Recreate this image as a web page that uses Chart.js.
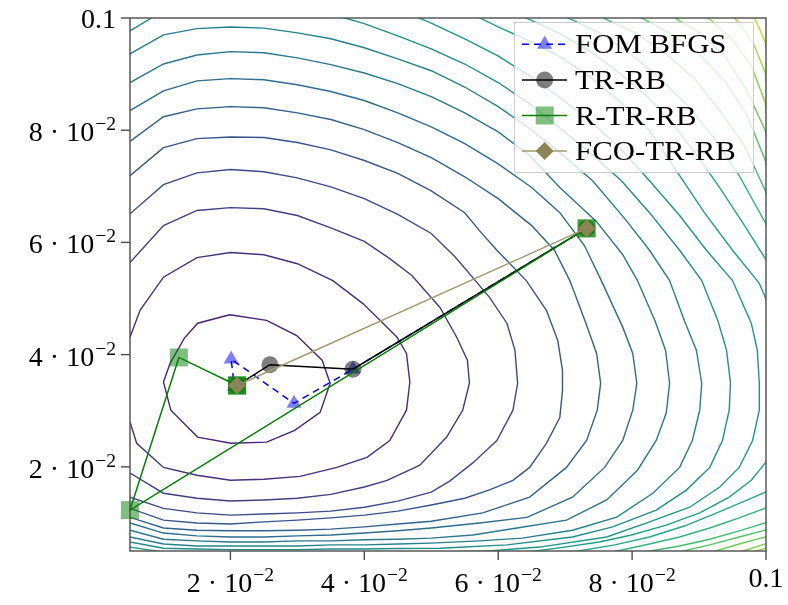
<!DOCTYPE html>
<html>
<head>
<meta charset="utf-8">
<script src="https://cdn.jsdelivr.net/npm/chart.js@4.4.0/dist/chart.umd.min.js"></script>
<style>
  html, body { margin: 0; padding: 0; background: #fff; }
  canvas { display: block; }
</style>
</head>
<body>
<canvas id="myChart" width="788" height="605"></canvas>
<script>
// every coordinate below is given in units of 1e-3
var unit = 1e-3;

var xRange = [5, 100];
var yRange = [5, 100];
var xTicks = [20, 40, 60, 80, 100];
var yTicks = [20, 40, 60, 80, 100];

// contour lines of the objective, innermost level first
var level1 = [[19.9,47.1],[15.1,45.6],[13.1,42.9],[11.0,38.5],[10.0,35.1],[11.1,30.1],[15.1,25.3],[20.1,24.2],[25.4,24.4],[29.6,26.5],[33.4,29.7],[34.9,34.9],[33.7,39.0],[29.9,43.4],[25.4,46.1],[19.9,47.1]];
var level2 = [[5,43.1],[6.5,47.9],[10,53.8],[15,57.3],[20,58.2],[25,57.8],[30,56.2],[35.3,53.2],[39.8,49.1],[42.8,45.6],[44.9,43.1],[46.3,40.2],[46.8,35.1],[46.3,30.1],[43.8,24.7],[40.4,21.7],[35.9,19.9],[30.4,18.3],[25,17.8],[20,17.6],[15,18.5],[10,19.9],[6,24.2],[5,28.0]];
var level3 = [[5,56.4],[10,63.0],[15,65.7],[20,66.2],[25,66.0],[30,64.8],[35,62.6],[40,60.2],[43.8,57.1],[47.1,54.1],[51.3,48.4],[53.8,43.1],[55.4,39.0],[55.7,34.9],[54.7,30.1],[52.3,25.3],[48.3,20.3],[43.4,17.6],[40,16.4],[35,15.1],[30,14.4],[25,14.1],[20,13.9],[15,14.4],[10,15.3],[5,18.9]];
var level4 = [[5,65.1],[10,70.3],[15,72.4],[20,73.0],[25,72.6],[30,71.5],[35,69.9],[40,67.8],[45,65.0],[50,61.6],[53.5,57.5],[55.3,55.0],[58.7,50.2],[61.3,45.6],[62.5,40.8],[62.9,34.9],[62.2,30.1],[59.8,24.7],[56.2,20.7],[52.8,17.5],[50,15.5],[45,13.9],[40,12.8],[35,12.1],[30,11.8],[25,11.6],[20,11.4],[15,11.8],[10,12.6],[5,14.6]];
var level5 = [[5,71.9],[10,76.9],[15,78.5],[20,78.8],[25,78.7],[30,77.8],[35,76.5],[40,74.6],[45,72.3],[50,69.2],[55,65.3],[57.2,62.1],[59.8,58.6],[64.2,53.2],[67.2,47.9],[68.9,42.5],[69.6,37.2],[69.6,33.6],[69.2,28.8],[67.2,24.2],[64.7,19.9],[62.2,17.6],[58.7,15.9],[55,14.4],[50,13.2],[45,12.1],[40,11.4],[35,10.9],[30,10.5],[25,10.2],[20,9.8],[15,10.0],[10,10.5],[5,12.6]];
var level6 = [[5,78.0],[10,82.4],[15,83.8],[20,84.2],[25,84.0],[30,83.1],[35,81.9],[40,80.1],[45,77.8],[50,75.1],[55,71.7],[60,67.8],[65,63.0],[68.4,58.6],[70.7,53.2],[73.1,45.6],[74.7,40.2],[75.3,34.9],[74.8,30.1],[73.2,24.7],[70.2,19.9],[64.7,14.6],[57.7,11.8],[50,10.3],[45,9.8],[40,9.3],[35,8.9],[30,8.7],[25,8.6],[20,8.6],[15,8.7],[10,9.1],[5,11.0]];
var level7 = [[5,83.5],[10,87.0],[15,88.8],[20,89.2],[25,89.0],[30,88.1],[35,86.9],[40,85.3],[45,83.1],[50,80.6],[55,77.6],[60,74.0],[65,69.8],[69.2,65.3],[72.9,59.4],[75.4,53.2],[78.6,44.9],[80.1,40.2],[80.7,34.9],[80.1,30.1],[78.6,24.7],[75.9,19.9],[71.1,14.6],[64.3,11.0],[57.2,10.0],[50,9.1],[45,8.6],[40,8.2],[35,7.85],[30,7.7],[25,7.5],[20,7.5],[15,7.7],[10,8.2],[5,10.0]];
var level8 = [[5,88.5],[10,91.8],[15,93.4],[20,94.0],[25,93.8],[30,92.9],[35,91.7],[40,90.2],[45,88.3],[50,86.0],[55,83.1],[60,79.7],[64.7,75.5],[69.2,69.8],[74.7,63.7],[78.6,57.8],[80.8,53.2],[83.4,46.1],[85.0,40.8],[85.6,34.9],[85.1,29.6],[83.6,24.7],[80.8,19.4],[76.2,14.1],[70.2,10.5],[62.8,9.1],[56.2,7.85],[50,7.3],[45,7.1],[40,7.0],[35,6.8],[30,6.8],[25,6.6],[20,6.6],[15,6.8],[10,7.1],[5,8.7]];
var level9 = [[5,93.6],[10,97.0],[15,98.1],[20,98.4],[25,98.2],[30,97.35],[35,96.3],[40,94.7],[45,92.7],[50,90.6],[55,87.7],[60,84.2],[64.7,80.3],[69.2,76.0],[74.1,71.0],[78.9,64.25],[82.6,58.6],[85.6,53.2],[87.8,46.1],[89.6,40.8],[90.4,34.9],[90.1,30.1],[89.0,24.7],[87.1,19.9],[83.1,15.3],[77.7,11.05],[71.1,8.7],[63.6,7.3],[57.2,6.8],[50,6.4],[45,6.25],[40,6.1],[35,6.1],[30,5.9],[25,5.9],[20,5.9],[15,5.9],[10,6.25],[5,7.5]];
var level10 = [[5,97.7],[10,101.3],[15,102.5],[20,102.9],[25,102.7],[30,102.0],[35,100.7],[40,99.0],[45,96.8],[50,94.5],[55,91.8],[60,88.5],[64.7,84.7],[69.2,80.4],[73.7,76.0],[78.4,71.0],[82.6,65.3],[87.1,58.6],[90.4,53.2],[92.8,46.1],[94.1,40.8],[94.7,34.9],[94.5,30.1],[93.5,24.7],[91.6,19.9],[88.1,15.85],[83.6,12.3],[77.1,9.3],[71.1,7.5],[61.3,6.1],[51.3,5.5],[45,5.45],[40,5.35],[35,5.35],[30,5.25],[25,5.25],[20,5.25],[15,5.35],[10,5.5],[5,6.6]];
var level11 = [[43.8,102.2],[50,99.1],[55,96.3],[59.9,93.3],[64.7,89.7],[69.2,85.8],[73.7,81.7],[78.1,76.9],[82.6,71.0],[87.1,64.8],[91.1,58.6],[95.0,53.2],[97.8,45.6],[98.7,40.8],[99.0,34.9],[99.0,30.1],[98.0,24.7],[96.0,19.9],[93.1,16.4],[88.6,12.8],[82.2,10.0],[76.2,7.5],[66.2,5.7],[58.6,5.0],[50,4.8],[40,4.8],[30,4.65],[20,4.65],[10,4.8],[5,5.7]];
var level12 = [[53.5,102.2],[60,98.4],[64.7,95.9],[69.2,93.1],[73.7,89.5],[78.1,85.2],[82.6,79.9],[86.6,72.8],[90.8,65.3],[95.0,58.6],[99.0,52.7],[102.0,44.3],[103.1,34.9],[102.0,26.5],[99.9,20.7],[97.8,17.6],[94.5,14.6],[90.1,11.8],[85.1,9.6],[79.9,7.85],[75.1,6.6],[69.9,5.7],[65.6,5.0],[60.2,4.5]];
var level13 = [[61.0,101.8],[64.7,99.7],[69.2,97.2],[73.7,94.1],[78.1,90.2],[82.6,85.6],[86.6,80.3],[90.1,74.9],[93.4,69.2],[96.8,63.0],[99.9,57.1],[103.5,47.9],[105,34.9],[103.5,21.2],[99.9,15.5],[96.8,13.9],[92.3,11.6],[87.8,9.45],[82.6,7.5],[77.4,6.1],[72.0,5.0],[67.7,4.3]];
var level14 = [[66.9,101.8],[71.4,99.5],[75.1,97.35],[79.6,93.8],[84.1,89.3],[88.6,84.0],[92.3,78.5],[96.0,71.9],[99.9,63.5],[103.5,51.4],[105,34.9],[103.5,17.6],[99.9,12.65],[96.0,10.9],[91.6,9.1],[87.1,7.5],[82.6,6.25],[77.8,5.0],[73.7,4.1]];
var level15 = [[72.9,101.8],[76.6,99.5],[80.4,97.35],[84.85,93.8],[89.3,89.2],[93.1,83.5],[96.8,77.2],[99.9,69.2],[103.5,53.2],[104.2,34.9],[103.5,14.1],[99.9,10.0],[96.0,8.6],[91.6,7.1],[87.1,5.9],[82.75,5.0],[79.6,4.3]];
var level16 = [[78.9,101.8],[81.9,99.7],[85.6,97.35],[90.1,93.4],[93.8,88.8],[97.2,82.6],[99.9,74.6],[102.8,58.6],[103.5,34.9],[102.8,12.3],[99.9,8.7],[96.0,7.5],[91.6,6.1],[87.7,5.0],[84.85,4.3]];
var level17 = [[84.1,101.8],[87.1,99.5],[90.1,97.35],[93.8,93.3],[97.2,87.0],[99.9,79.9],[102.0,63.9],[102.8,34.9],[102.0,10.5],[99.9,7.5],[96.0,6.25],[92.5,5.0],[90.1,4.3]];
var level18 = [[89.3,101.8],[91.9,99.5],[94.85,96.3],[97.8,91.5],[99.9,84.9],[101.3,67.5],[101.7,34.9],[101.3,8.7],[99.9,6.25],[96.6,5.0],[94.55,4.3]];
var level19 = [[93.8,101.8],[96.0,99.1],[98.3,95.0],[99.9,90.2],[100.8,76.4],[101.1,34.9],[100.8,7.0],[99.9,5.5],[98.6,5.0],[96.8,4.3]];
var level20 = [[97.5,101.8],[99.0,98.2],[99.9,95.6],[100.7,88.8]];

var contourLines = [level1, level2, level3, level4, level5, level6, level7, level8, level9, level10,
  level11, level12, level13, level14, level15, level16, level17, level18, level19, level20];

// iterates of the four optimisers
var fomBfgs = [[73.2,62.5],[38.3,37.4],[29.5,31.3],[20.1,39.2],[20.6,34.3]];
var trRb = [[73.2,62.5],[38.3,37.4],[25.9,38.2],[21.0,34.5]];
var rTrRb = [[73.2,62.5],[73.2,62.5],[5.0,12.3],[12.3,39.5],[21.0,34.5],[21.0,34.5],[21.0,34.5]];
var fcoTrRb = [[73.2,62.5],[21.0,34.5]];

var viridis = ['#440154','#482475','#414487','#355f8d','#2a788e','#21918c','#22a884','#44bf70','#7ad151','#bddf26','#fde725'];

function hexRgb(h) {
	return [parseInt(h.substr(1, 2), 16), parseInt(h.substr(3, 2), 16), parseInt(h.substr(5, 2), 16)];
}

function shade(t) {
	var p = t * (viridis.length - 1);
	var i = Math.min(Math.floor(p), viridis.length - 2);
	var f = p - i;
	var a = hexRgb(viridis[i]), b = hexRgb(viridis[i + 1]);
	var c = a.map(function (v, k) { return Math.round(v + (b[k] - v) * f); });
	return 'rgb(' + c.join(',') + ')';
}

function toPoints(list) {
	return list.map(function (p) { return { x: p[0] * unit, y: p[1] * unit }; });
}

var contourSets = contourLines.map(function (line, i) {
	return {
		label: 'level ' + (i + 1),
		data: toPoints(line),
		showLine: true,
		borderColor: shade(0.1 + 0.042 * i),
		borderWidth: 1.4,
		pointRadius: 0,
		tension: 0,
		order: 10,
		clip: 0
	};
});

function pathSet(label, pts, line, fill, style, radius, dash, order) {
	return {
		label: label,
		data: toPoints(pts),
		showLine: true,
		borderColor: line,
		borderWidth: 1.5,
		borderDash: dash,
		pointStyle: style,
		pointRadius: radius,
		pointBackgroundColor: fill,
		pointBorderColor: 'rgba(0,0,0,0)',
		pointBorderWidth: 0,
		tension: 0,
		order: order,
		clip: false,
		inLegend: true
	};
}

var pathSets = [
	pathSet('FOM BFGS', fomBfgs, '#0000ff', 'rgba(0,0,255,0.5)', 'triangle', 8.7, [7, 5], 3),
	pathSet('TR-RB', trRb, '#000000', 'rgba(0,0,0,0.5)', 'circle', 8.5, [], 2),
	pathSet('R-TR-RB', rTrRb, '#008000', 'rgba(0,128,0,0.5)', 'rect', 12.7, [], 1),
	pathSet('FCO-TR-RB', fcoTrRb, '#a39b72', '#8c8455', 'rectRot', 9, [], 0)
];

var mainFont = '28px "Liberation Serif"';
var supFont = '19.6px "Liberation Serif"';

function tickText(v) {
	if (v >= 100) return { main: '0.1', sup: '' };
	return { main: String(v / 10) + ' \u00b7 10', sup: '\u22122' };
}

function drawLabel(c, t, x, y, align) {
	c.font = mainFont;
	var w1 = c.measureText(t.main).width;
	c.font = supFont;
	var w2 = t.sup ? c.measureText(t.sup).width + 1 : 0;
	var left = align === 'right' ? x - w1 - w2 : x - (w1 + w2) / 2;
	c.font = mainFont;
	c.fillText(t.main, left, y);
	if (t.sup) {
		c.font = supFont;
		c.fillText(t.sup, left + w1 + 1, y - 11);
	}
}

var axisBox = {
	id: 'axisBox',
	afterDatasetsDraw: function (chart) {
		var c = chart.ctx, a = chart.chartArea;
		var xs = chart.scales.x, ys = chart.scales.y;
		c.save();
		c.strokeStyle = '#4d4d4d';
		c.lineWidth = 1.4;
		c.strokeRect(a.left, a.top, a.right - a.left, a.bottom - a.top);
		c.fillStyle = '#000';
		c.textAlign = 'left';
		c.textBaseline = 'alphabetic';
		xTicks.forEach(function (v) {
			var px = xs.getPixelForValue(v * unit);
			c.beginPath(); c.moveTo(px, a.bottom); c.lineTo(px, a.bottom + 9); c.stroke();
			var t = tickText(v);
			drawLabel(c, t, px, a.bottom + (t.sup ? 41 : 36), 'center');
		});
		yTicks.forEach(function (v) {
			var py = ys.getPixelForValue(v * unit);
			c.beginPath(); c.moveTo(a.left - 9, py); c.lineTo(a.left, py); c.stroke();
			var t = tickText(v);
			drawLabel(c, t, a.left - 14, py + (t.sup ? 11 : 10), 'right');
		});
		c.restore();
	},
	afterDraw: function (chart) {
		var c = chart.ctx;
		var sets = chart.data.datasets.filter(function (d) { return d.inLegend; });
		c.save();
		c.fillStyle = 'rgba(255,255,255,0.8)';
		c.fillRect(514, 22, 239, 150);
		c.strokeStyle = '#cccccc';
		c.lineWidth = 1;
		c.strokeRect(514.5, 22.5, 239, 150);
		sets.forEach(function (d, i) {
			var y = 44.3 + i * 35.6;
			c.strokeStyle = d.borderColor;
			c.lineWidth = 1.5;
			c.setLineDash(d.borderDash);
			c.beginPath(); c.moveTo(522, y); c.lineTo(567, y); c.stroke();
			c.setLineDash([]);
			c.fillStyle = d.pointBackgroundColor;
			Chart.helpers.drawPoint(c, { pointStyle: d.pointStyle, radius: d.pointRadius, rotation: 0, borderWidth: 0 }, 544.7, y);
			c.fillStyle = '#000';
			c.font = mainFont;
			c.save();
			c.translate(575, y + 9);
			c.scale(1.1, 1);
			c.fillText(d.label, 0, 0);
			c.restore();
		});
		c.restore();
	}
};

var ctx = document.getElementById('myChart');
var myChart = new Chart(ctx, {
	type: 'scatter',
	data: { datasets: contourSets.concat(pathSets) },
	options: {
		responsive: false,
		maintainAspectRatio: false,
		animation: false,
		events: [],
		layout: { padding: { left: 130, right: 22, top: 18, bottom: 54 } },
		scales: {
			x: { type: 'linear', min: xRange[0] * unit, max: xRange[1] * unit, display: false },
			y: { type: 'linear', min: yRange[0] * unit, max: yRange[1] * unit, display: false }
		},
		plugins: { legend: { display: false }, tooltip: { enabled: false } }
	},
	plugins: [axisBox]
});
</script>
</body>
</html>
